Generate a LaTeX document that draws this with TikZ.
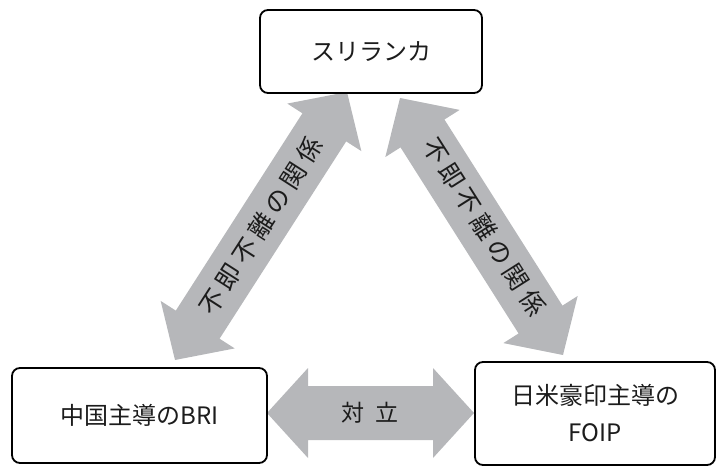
\documentclass[tikz,border=0pt]{standalone}
\usepackage{fontspec}
\setmainfont{Noto Sans CJK JP}
\newfontfamily\spacedcjk[LetterSpace=20]{Noto Sans CJK JP}
\newfontfamily\widecjk[LetterSpace=45]{Noto Sans CJK JP}
\usetikzlibrary{calc}
\definecolor{arrowgray}{RGB}{182,183,186}
\definecolor{inkc}{RGB}{28,28,28}
\newcommand{\dblarrowpath}[5]{%
  \coordinate (#1-#2-a) at ($(#1)!#5!(#2)$);
  \coordinate (#1-#2-b) at ($(#2)!#5!(#1)$);
  \fill[arrowgray] (#1)
    -- ($(#1-#2-a)!#4!-90:(#2)$) -- ($(#1-#2-a)!#3!-90:(#2)$)
    -- ($(#1-#2-b)!#3!90:(#1)$) -- ($(#1-#2-b)!#4!90:(#1)$)
    -- (#2)
    -- ($(#1-#2-b)!#4!-90:(#1)$) -- ($(#1-#2-b)!#3!-90:(#1)$)
    -- ($(#1-#2-a)!#3!90:(#2)$) -- ($(#1-#2-a)!#4!90:(#2)$)
    -- cycle;}
\begin{document}
\begin{tikzpicture}[x=1pt,y=-1pt,
  box/.style={draw=black, line width=1.8pt, rounded corners=8pt, fill=white,
    inner sep=0pt, text=inkc, font=\fontsize{24}{37}\selectfont, align=center},
  arrowlabel/.style={text=inkc, inner sep=0pt, font=\spacedcjk\fontsize{25}{30}\selectfont}]
\useasboundingbox (0,0) rectangle (721,468);
% arrow end points
\coordinate (lA) at (175,360);
\coordinate (lB) at (347,92);
\coordinate (rA) at (400,98);
\coordinate (rB) at (563,355);
\coordinate (hA) at (267,413);
\coordinate (hB) at (474,413);
% arrows
\dblarrowpath{lA}{lB}{26pt}{44pt}{42pt}
\dblarrowpath{rA}{rB}{26pt}{44pt}{42pt}
\dblarrowpath{hA}{hB}{27pt}{45pt}{41pt}
% labels
\node[arrowlabel, rotate=57.3] (ll) at ($(lA)!0.5!(lB)$) {不即不離の関係};
\node[arrowlabel, rotate=-57.6] (rl) at ($(rA)!0.5!(rB)+(3,0)$) {不即不離の関係};
\node[arrowlabel, font=\widecjk\fontsize{23}{28}\selectfont] (hl) at (370,413) {対立};
% boxes
\node[box, minimum width=222pt, minimum height=83pt] (top) at (371,51.5) {スリランカ};
\node[box, minimum width=255pt, minimum height=95pt] (bri) at (139.5,415.5) {中国主導のBRI};
\node[box, minimum width=240pt, minimum height=103pt] (foip) at (595,413.5) {日米豪印主導の\\FOIP};
\end{tikzpicture}
\end{document}
